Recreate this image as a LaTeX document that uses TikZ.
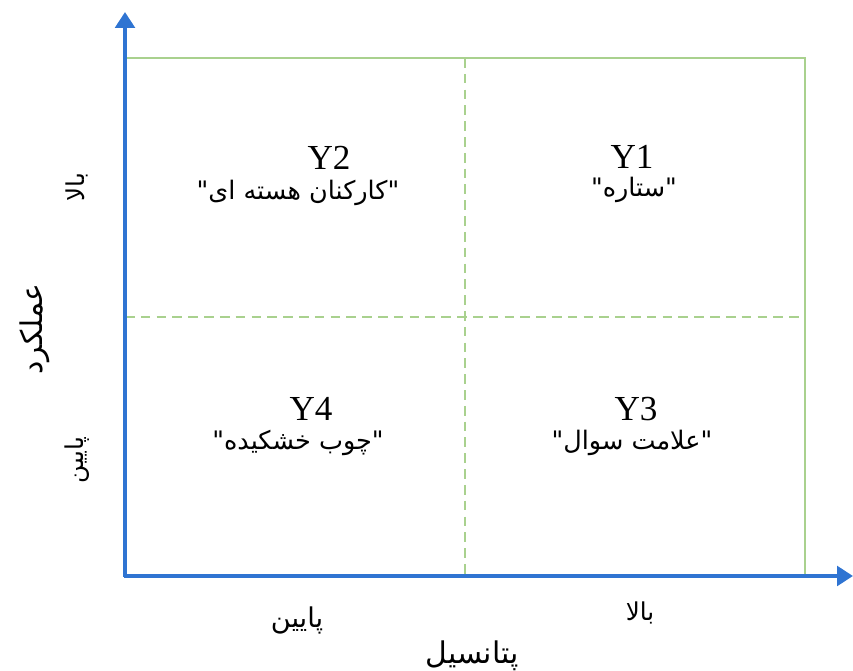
\documentclass[tikz,border=0pt]{standalone}
\usepackage{fontspec}
\setmainfont{Liberation Serif}
\newfontfamily\arabicfont[Script=Arabic]{DejaVu Sans}
\TeXXeTstate=1
\usetikzlibrary{arrows.meta}
\definecolor{axisblue}{HTML}{2F74D2}
\definecolor{gridgreen}{HTML}{A9D18E}

\begin{document}
\begin{tikzpicture}[x=0.02cm, y=-0.02cm,
  axis/.style={axisblue, line width=2.3pt, -{Triangle[length=9pt,width=11pt]}},
  frame/.style={draw=gridgreen, line width=0.6pt},
  divider/.style={gridgreen, line width=1.1pt, dash pattern=on 5.5pt off 3.5pt},
  cls/.style={font=\fontsize{20}{22}\selectfont, inner sep=0pt},
  tag/.style={font=\arabicfont\fontsize{14.5}{16}\selectfont, inner sep=0pt},
  side/.style={font=\arabicfont\fontsize{14}{16}\selectfont, inner sep=0pt},
  title/.style={font=\arabicfont\fontsize{17}{19}\selectfont, inner sep=0pt}]
  \useasboundingbox (0,0) rectangle (853,671);
  % corners of the grid
  \coordinate (origin) at (125,576);
  \coordinate (ytip) at (125,12);
  \coordinate (xtip) at (853,576);
  \coordinate (topright) at (805,58);
  \coordinate (midtop) at (465,58);
  \coordinate (midbot) at (465,576);
  \coordinate (midleft) at (125,317);
  \coordinate (midright) at (805,317);
  \draw[frame] (origin) rectangle (topright);
  \draw[divider] (midtop) -- (midbot);
  \draw[divider] (midleft) -- (midright);
  \draw[axis] (origin.center) ++(0,1) -- (ytip);
  \draw[axis] (origin.center) ++(-1,0) -- (xtip);
  % quadrants
  \node[cls] (y2) at (329,158) {Y2};
  \node[tag] (star2) at (298,193) {\beginR"کارکنان هسته ای"\endR};
  \node[cls] (y1) at (632,157) {Y1};
  \node[tag] (star1) at (634,190) {\beginR"ستاره"\endR};
  \node[cls] (y4) at (311,409) {Y4};
  \node[tag] (star4) at (298,443) {\beginR"چوب خشکیده"\endR};
  \node[cls] (y3) at (636,409) {Y3};
  \node[tag] (star3) at (632,443) {\beginR"علامت سوال"\endR};
  % axis labels
  \node[side, rotate=90] (perfhigh) at (77,187) {\beginR بالا\endR};
  \node[side, rotate=90] (perflow) at (77,460) {\beginR پایین\endR};
  \node[title, rotate=90] (perf) at (35,329) {\beginR عملکرد\endR};
  \node[side, font=\arabicfont\fontsize{15.5}{17}\selectfont] (potlow) at (297,620) {\beginR پایین\endR};
  \node[side] (pothigh) at (640,613) {\beginR بالا\endR};
  \node[title] (pot) at (472,656) {\beginR پتانسیل\endR};
\end{tikzpicture}
\end{document}
